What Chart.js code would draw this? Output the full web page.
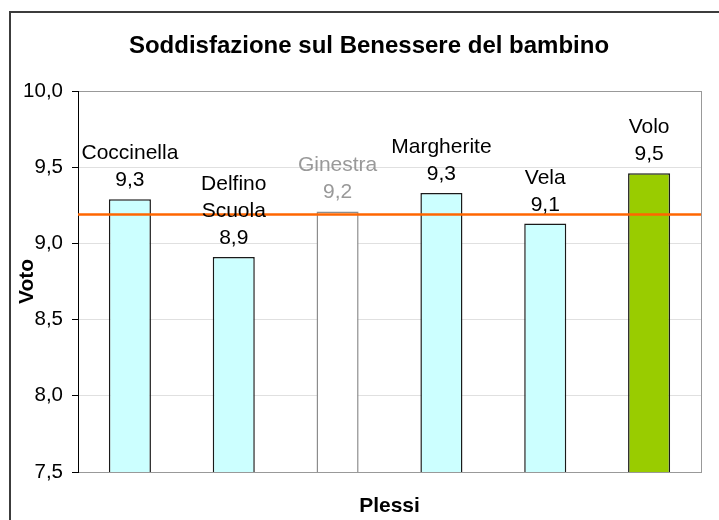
<!DOCTYPE html>
<html>
<head>
<meta charset="utf-8">
<title>Soddisfazione sul Benessere del bambino</title>
<script src="https://cdn.jsdelivr.net/npm/chart.js@4"></script>
<style>
  body { margin: 0; background: #fff; overflow: hidden; }
  canvas { display: block; }
</style>
</head>
<body>
<canvas id="myChart" width="719" height="520"></canvas>
<script>
// dati
var plessi = ['Coccinella', 'Delfino Scuola', 'Ginestra', 'Margherite', 'Vela', 'Volo'];
var voti = [9.29, 8.91, 9.21, 9.33, 9.13, 9.46];
var media = [9.19, 9.19];
var yTicks = [7.5, 8.0, 8.5, 9.0, 9.5, 10.0];

var fillColors = ['#ccffff', '#ccffff', '#ffffff', '#ccffff', '#ccffff', '#99cc00'];
var lineColors = ['#1a1a1a', '#1a1a1a', '#8c8c8c', '#1a1a1a', '#1a1a1a', '#1a1a1a'];
var textColors = ['#000000', '#000000', '#999999', '#000000', '#000000', '#000000'];

var FONT = '"Liberation Sans", Arial, sans-serif';

function virgola(v) {
  return v.toFixed(1).replace('.', ',');
}

// cornice, sfondo e titolo
var cornice = {
  id: 'cornice',
  beforeDraw: function(chart) {
    var c = chart.ctx;
    c.save();
    c.fillStyle = '#fff';
    c.fillRect(0, 0, chart.width, chart.height);
    c.restore();
  },
  afterDraw: function(chart) {
    var c = chart.ctx;
    var a = chart.chartArea;
    c.save();
    c.strokeStyle = '#999999';
    c.lineWidth = 1;
    c.beginPath();
    c.moveTo(a.right + 0.5, a.top);
    c.lineTo(a.right + 0.5, a.bottom);
    c.stroke();

    c.strokeStyle = '#3c3c3c';
    c.lineWidth = 2;
    c.strokeRect(10, 12, 800, 600);

    c.fillStyle = '#000';
    c.font = 'bold 24px ' + FONT;
    c.textAlign = 'center';
    c.textBaseline = 'alphabetic';
    c.fillText('Soddisfazione sul Benessere del bambino', 369, 53);
    c.restore();
  }
};

// etichette sopra le barre
var etichette = {
  id: 'etichette',
  afterDatasetsDraw: function(chart) {
    var c = chart.ctx;
    var meta = chart.getDatasetMeta(0);
    c.save();
    c.font = '21px ' + FONT;
    c.textAlign = 'center';
    c.textBaseline = 'alphabetic';
    meta.data.forEach(function(bar, i) {
      var righe = plessi[i].split(' ');
      righe.push(virgola(voti[i]));
      c.fillStyle = textColors[i];
      var y = bar.y - 13;
      for (var k = righe.length - 1; k >= 0; k--) {
        c.fillText(righe[k], bar.x, y);
        y -= 27;
      }
    });
    c.restore();
  }
};

var ctx = document.getElementById('myChart');

new Chart(ctx, {
  type: 'bar',
  data: {
    labels: plessi,
    datasets: [{
      label: 'Voto',
      data: voti,
      backgroundColor: fillColors,
      borderColor: lineColors,
      borderWidth: 1.5,
      borderSkipped: false,
      grouped: false,
      categoryPercentage: 1,
      barPercentage: 0.405,
      order: 1
    }, {
      type: 'line',
      label: 'Media',
      xAxisID: 'xl',
      data: [{x: 0, y: media[0]}, {x: 1, y: media[1]}],
      borderColor: '#ff6600',
      borderWidth: 2.5,
      pointRadius: 0,
      fill: false,
      order: 0
    }]
  },
  options: {
    responsive: false,
    animation: false,
    layout: {
      padding: {top: 91, left: 12, right: 18, bottom: 0}
    },
    plugins: {
      legend: {display: false},
      title: {display: false},
      tooltip: {enabled: false}
    },
    scales: {
      x: {
        ticks: {display: false},
        grid: {display: false},
        border: {color: '#999999'},
        title: {
          display: true,
          text: 'Plessi',
          color: '#000',
          font: {family: FONT, size: 21, weight: 'bold'},
          padding: {top: 0, bottom: 1}
        },
        afterFit: function(s) { s.height = 48; }
      },
      xl: {
        type: 'linear',
        display: false,
        offset: false,
        min: 0,
        max: 1
      },
      y: {
        min: 7.5,
        max: 10,
        afterBuildTicks: function(s) {
          s.ticks = yTicks.map(function(v) { return {value: v}; });
        },
        ticks: {
          color: '#000',
          padding: 9,
          font: {family: FONT, size: 20.5},
          callback: function(v) { return virgola(v); }
        },
        grid: {
          color: function(c) { return c.tick && c.tick.value === 10 ? '#999999' : '#e0e0e0'; },
          tickColor: '#000',
          tickLength: 6
        },
        border: {color: '#000', width: 1},
        title: {
          display: true,
          text: 'Voto',
          color: '#000',
          font: {family: FONT, size: 21, weight: 'bold'},
          padding: {top: 3, bottom: 0}
        },
        afterFit: function(s) { s.width = 66; }
      }
    }
  },
  plugins: [cornice, etichette]
});
</script>
</body>
</html>
